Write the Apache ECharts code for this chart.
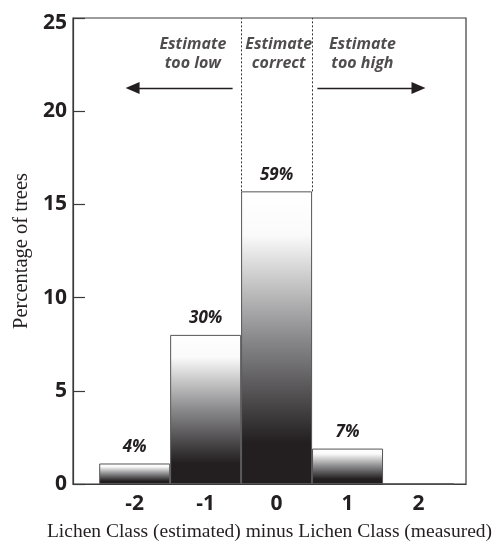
<!DOCTYPE html>
<html>
<head>
<meta charset="utf-8">
<script src="https://cdn.jsdelivr.net/npm/echarts@6/dist/echarts.min.js"></script>
<style>html,body{margin:0;padding:0;background:#fff}#c{width:495px;height:543px}</style>
</head>
<body>
<div id="c"></div>
<script>
const categories = [-2, -1, 0, 1, 2];
const values = [1.1, 8.0, 15.7, 1.9, 0];
const pctLabels = ['4%', '30%', '59%', '7%', ''];
const yTicks = [0, 5, 10, 15, 20, 25];
const notes = [
  { x: -1.18, y: 23.05, text: 'Estimate\ntoo low' },
  { x: 0.03, y: 23.05, text: 'Estimate\ncorrect' },
  { x: 1.21, y: 23.05, text: 'Estimate\ntoo high' }
];
const arrowY = 21.25;
const leftArrow = [-0.62, -2.03];
const rightArrow = [0.575, 2.0];
const dividers = [-0.5, 0.5];

const ink = '#231f20';
const sans = 'Open Sans';
const grad = new echarts.graphic.LinearGradient(0, 0, 0, 1, [
  { offset: 0, color: '#ffffff' },
  { offset: 0.15, color: '#fafafa' },
  { offset: 0.5, color: '#8a8a8c' },
  { offset: 0.86, color: ink },
  { offset: 1, color: ink }
]);

const chart = echarts.init(document.getElementById('c'), null, { renderer: 'canvas' });
chart.setOption({
  animation: false,
  grid: { left: 73, right: 29, top: 18, bottom: 59, containLabel: false, outerBoundsMode: 'none',
    show: true, borderColor: '#3a3a3a', borderWidth: 1.2, backgroundColor: 'transparent' },
  xAxis: {
    type: 'value', min: -2.87, max: 2.67,
    splitLine: { show: false },
    axisLine: { show: true, onZero: false, lineStyle: { color: '#3a3a3a', width: 1.2 } },
    axisTick: { show: false },
    axisLabel: { customValues: categories, color: ink, fontSize: 21, fontWeight: 'bold', fontFamily: sans, margin: 10,
      formatter: v => String(v) },
    name: 'Lichen Class (estimated) minus Lichen Class (measured)',
    nameLocation: 'middle', nameGap: 38,
    nameTextStyle: { fontFamily: 'Liberation Serif', fontSize: 19.5, color: ink }
  },
  yAxis: {
    type: 'value', min: 0, max: 25, interval: 5,
    splitLine: { show: false },
    axisLine: { show: true, onZero: false, lineStyle: { color: '#3a3a3a', width: 1.2 } },
    axisTick: { show: true, inside: true, length: 12, lineStyle: { color: '#3a3a3a', width: 1.2 } },
    axisLabel: { color: ink, fontSize: 21, fontWeight: 'bold', fontFamily: sans, margin: 6,
      formatter: v => yTicks.includes(v) ? (v === 25 ? '{t|25}' : String(v)) : '',
      rich: { t: { fontSize: 21, fontWeight: 'bold', fontFamily: sans, color: ink, padding: [10, 0, 0, 0] } } },
    name: 'Percentage of trees', nameLocation: 'middle', nameGap: 40, nameRotate: 90,
    nameTextStyle: { fontFamily: 'Liberation Serif', fontSize: 20.5, color: ink }
  },
  series: [
    {
      type: 'bar',
      barWidth: 71,
      data: categories.map((c, i) => ({
        value: [c, values[i]],
        label: { formatter: pctLabels[i] }
      })),
      itemStyle: { color: grad, borderColor: '#555', borderWidth: 1 },
      label: { show: true, position: 'top', distance: 8, color: ink, fontSize: 17, fontStyle: 'italic', fontWeight: 'bold', fontFamily: sans },
      markLine: {
        silent: true,
        label: { show: false },
        data: [
          ...dividers.map(d => [
            { coord: [d, values[2]], symbol: 'none', lineStyle: { type: [2, 2], color: '#333', width: 1 } },
            { coord: [d, 25], symbol: 'none' }
          ]),
          [
            { coord: [leftArrow[0], arrowY], symbol: 'none', lineStyle: { type: 'solid', color: ink, width: 1.3 } },
            { coord: [leftArrow[1], arrowY], symbol: 'triangle', symbolSize: [12, 14] }
          ],
          [
            { coord: [rightArrow[0], arrowY], symbol: 'none', lineStyle: { type: 'solid', color: ink, width: 1.3 } },
            { coord: [rightArrow[1], arrowY], symbol: 'triangle', symbolSize: [12, 14] }
          ]
        ]
      }
    },
    {
      type: 'scatter',
      symbolSize: 1,
      itemStyle: { color: 'rgba(0,0,0,0)' },
      silent: true,
      data: notes.map(n => ({ value: [n.x, n.y], label: { formatter: n.text } })),
      label: { show: true, position: 'inside', color: ink, fontSize: 16, fontStyle: 'italic', fontWeight: 'bold', fontFamily: sans, lineHeight: 19, align: 'center', verticalAlign: 'middle' }
    }
  ]
});
</script>
</body>
</html>
